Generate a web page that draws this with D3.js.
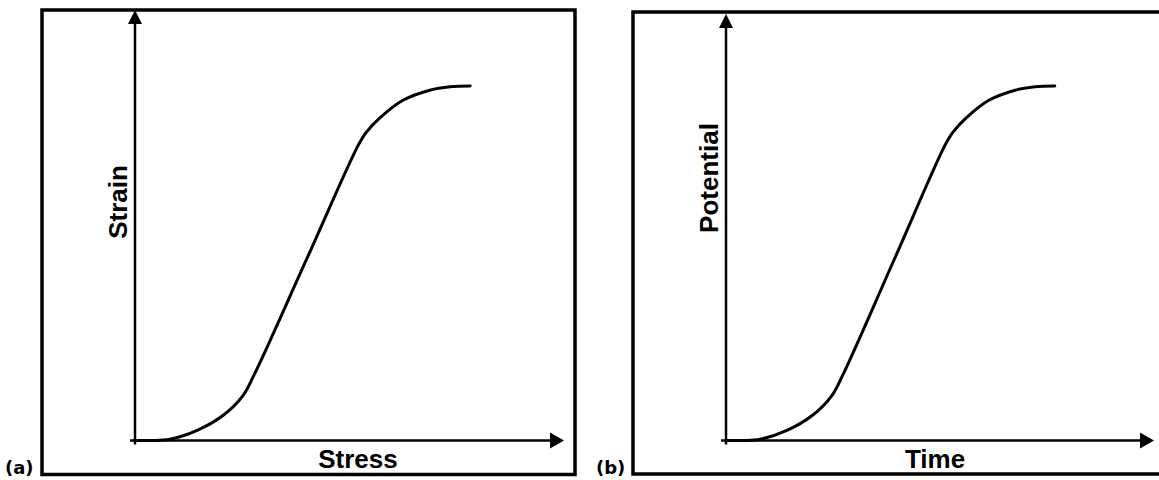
<!DOCTYPE html>
<html lang="en">
  <head>
    <meta charset="utf-8">
    <title>Stress-strain and potential-time curves</title>
    <script src="https://cdn.jsdelivr.net/npm/d3@7"></script>
    <style>
      body { margin: 0; background: #fff; }
      .frame { fill: none; stroke: #000; stroke-width: 3.5; }
      .axis-line { stroke: #000; stroke-width: 2.5; }
      .curve { fill: none; stroke: #000; stroke-width: 3; stroke-linecap: round; }
      .axis-title { font-family: "Liberation Sans", Arial, sans-serif; font-weight: bold; font-size: 26px; }
      .panel-tag { font-family: "DejaVu Sans", Verdana, sans-serif; font-weight: bold; font-size: 18px; }
    </style>
  </head>
  <body>
    <script>
      // curve points, in axis units (0-100)
      var xVals = [0, 4, 8.3, 14.8, 21, 25.7, 28.3, 40.7, 53.1, 55, 58.3, 63.8, 70.2, 75, 79.8];
      var yVals = [0, 0, 0.3, 2.4, 6, 10.7, 15.5, 42.8, 70.2, 73.3, 76.8, 81, 83.4, 84.2, 84.4];

      var panels = [
        { tag: '(a)', xTitle: 'Stress', yTitle: 'Strain', titleX: 358, titleY: 202,
          box: [42, 10, 533, 464.5], x0: 135, xEnd: 555, yTop: 10, xArrow: 564, xStart: 130 },
        { tag: '(b)', xTitle: 'Time', yTitle: 'Potential', titleX: 935, titleY: 178,
          box: [633, 12, 560, 462], x0: 726, xEnd: 1138, yTop: 14, xArrow: 1154, xStart: 721 }
      ];

      var width = 1159, height = 480;
      var svg = d3.select('body').append('svg')
            .attr('width', width)
            .attr('height', height);

      var y = d3.scaleLinear().domain([0, 100]).range([440.5, 20.5]);
      var pts = xVals.map(function(d, i){ return [d, yVals[i]]; });

      panels.forEach(function(p){
        var g = svg.append('g');
        var x = d3.scaleLinear().domain([0, 100]).range([p.x0, p.xEnd]);
        var yb = y(0);

        g.append('rect')
          .attr('class', 'frame')
          .attr('x', p.box[0]).attr('y', p.box[1])
          .attr('width', p.box[2]).attr('height', p.box[3]);

        // y axis + arrow
        g.append('line').attr('class', 'axis-line')
          .attr('x1', p.x0).attr('x2', p.x0)
          .attr('y1', yb + 4).attr('y2', p.yTop + 10);
        g.append('path')
          .attr('d', 'M' + p.x0 + ',' + p.yTop + 'L' + (p.x0 - 7) + ',' + (p.yTop + 14) + 'L' + (p.x0 + 7) + ',' + (p.yTop + 14) + 'Z')
          .attr('fill', '#000');

        // x axis + arrow
        g.append('line').attr('class', 'axis-line')
          .attr('x1', p.xStart).attr('x2', p.xArrow - 10)
          .attr('y1', yb).attr('y2', yb);
        g.append('path')
          .attr('d', 'M' + p.xArrow + ',' + yb + 'L' + (p.xArrow - 14) + ',' + (yb - 8) + 'L' + (p.xArrow - 14) + ',' + (yb + 8) + 'Z')
          .attr('fill', '#000');

        var line = d3.line()
          .x(function(d){ return x(d[0]); })
          .y(function(d){ return y(d[1]); })
          .curve(d3.curveCatmullRom.alpha(0.5));

        g.append('path')
          .attr('class', 'curve')
          .attr('d', line(pts));

        g.append('text')
          .attr('class', 'axis-title')
          .attr('text-anchor', 'middle')
          .attr('x', p.titleX)
          .attr('y', 468)
          .text(p.xTitle);

        g.append('text')
          .attr('class', 'axis-title')
          .attr('text-anchor', 'middle')
          .attr('transform', 'translate(' + (p.x0 - 8) + ',' + p.titleY + ') rotate(-90)')
          .text(p.yTitle);

        g.append('text')
          .attr('class', 'panel-tag')
          .attr('x', p.box[0] - 37)
          .attr('y', 474)
          .text(p.tag);
      });
    </script>
  </body>
</html>
